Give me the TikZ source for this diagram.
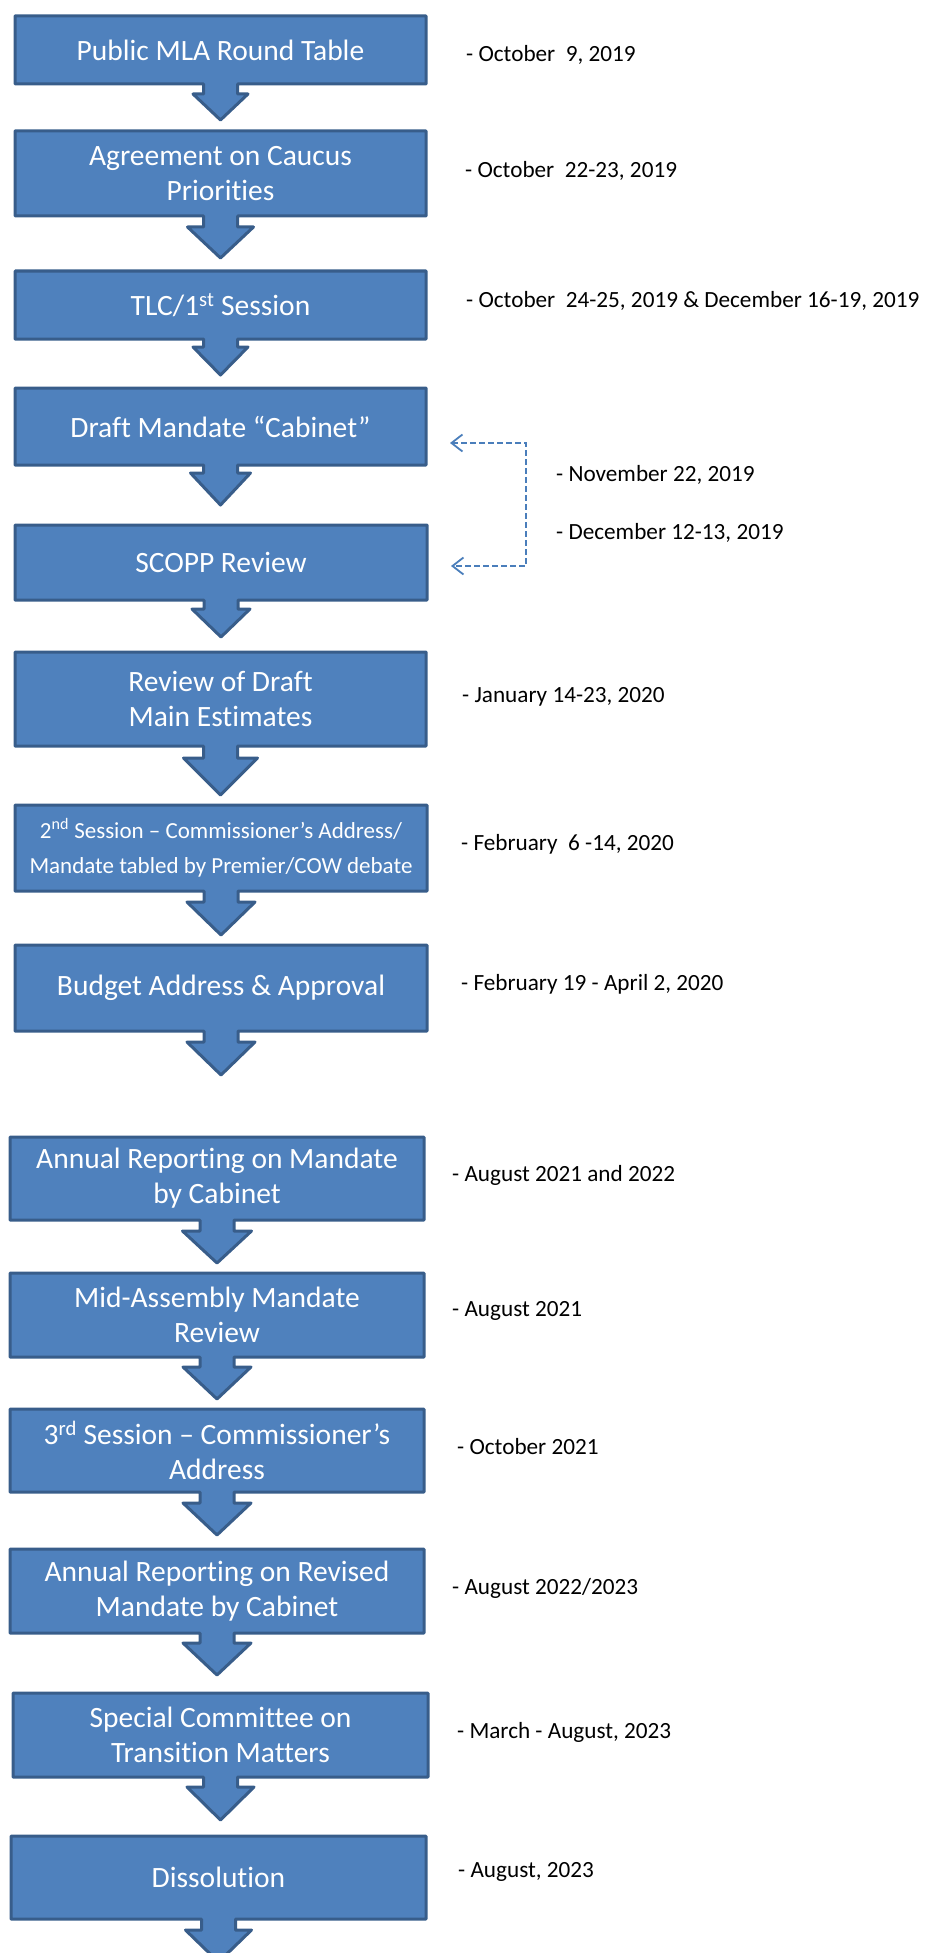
\documentclass[tikz,border=0pt]{standalone}
\usepackage{fontspec}
\setmainfont{Carlito}[Ligatures={NoCommon}]
\usetikzlibrary{arrows.meta}
\definecolor{boxfill}{HTML}{4F81BD}
\definecolor{boxline}{HTML}{385D8A}
\definecolor{dashblue}{HTML}{4A7EBB}
\tikzset{
  blockshape/.style={fill=boxfill, draw=boxline, line width=3pt, line join=round},
  blocktext/.style={text=white, align=center, inner sep=0pt, font=\fontsize{29.5}{35}\selectfont},
  datetext/.style={anchor=west, inner sep=0pt, text=black, font=\fontsize{23.2}{27}\selectfont},
  dashconn/.style={draw=dashblue, line width=1.8pt, dash pattern=on 6pt off 3pt,
    arrows={Straight Barb[length=11pt,width=17pt,line width=1.8pt]-Straight Barb[length=11pt,width=17pt,line width=1.8pt]}}
}
% name, x1, x2, y1, y2, head start, tip, head half-width, text
\newcommand\callbox[9]{%
  \path[blockshape] (#2,#4) -- (#3,#4) -- (#3,#5) -- ({(#2+#3)/2+17},#5) -- ({(#2+#3)/2+17},#6)
    -- ({(#2+#3)/2+#8},#6) -- ({(#2+#3)/2},#7) -- ({(#2+#3)/2-#8},#6) -- ({(#2+#3)/2-17},#6)
    -- ({(#2+#3)/2-17},#5) -- (#2,#5) -- cycle;
  \node[blocktext, minimum width={#3-#2}, minimum height={#5-#4}] (#1) at ({(#2+#3)/2},{(#4+#5)/2}) {#9};
}
\begin{document}
\begin{tikzpicture}[x=1pt,y=-1pt]
\useasboundingbox (0,0) rectangle (929,1953);

\callbox{pub}{15}{426}{16}{84}{94}{120}{27.5}{Public MLA Round Table}
\callbox{agr}{15}{426}{131}{216}{227}{258}{33}{Agreement on Caucus\\Priorities}
\callbox{tlc}{15}{426}{271}{339}{347}{375}{27.5}{TLC/1\textsuperscript{st} Session}
\callbox{drf}{15}{426}{388}{465}{473}{505}{30}{Draft Mandate “Cabinet”}
\callbox{sco}{15}{427}{525}{600}{609}{637}{29}{SCOPP Review}
\callbox{rev}{15}{426}{652}{746}{758}{795}{37}{Review of Draft\\Main Estimates}
\callbox{sec}{15}{427}{805}{891}{902}{935}{34}{\fontsize{23}{27}\selectfont 2\textsuperscript{nd} Session – Commissioner’s Address/\\\fontsize{23}{27}\selectfont Mandate tabled by Premier/COW debate}
\callbox{bud}{15}{427}{945}{1031}{1042}{1075}{34}{Budget Address \& Approval}
\callbox{ann}{10}{424}{1137}{1220}{1231}{1263}{34.5}{Annual Reporting on Mandate\\by Cabinet}
\callbox{mid}{10}{424}{1273}{1357}{1367}{1399}{34}{Mid-Assembly Mandate\\Review}
\callbox{thr}{10}{424}{1409}{1492}{1503}{1535}{34}{3\textsuperscript{rd} Session – Commissioner’s\\Address}
\callbox{arv}{10}{424}{1549}{1633}{1643}{1675}{34}{Annual Reporting on Revised\\Mandate by Cabinet}
\callbox{spc}{13}{428}{1693}{1777}{1787}{1820}{33.5}{Special Committee on\\Transition Matters}
\callbox{dis}{11}{426}{1836}{1919}{1930}{1962}{33}{Dissolution}

% dates
\node[datetext] (d1) at (466,55) {- October\ \ 9, 2019};
\node[datetext] (d2) at (465,171) {- October\ \ 22-23, 2019};
\node[datetext] (d3) at (466,301) {- October\ \ 24-25, 2019 \& December 16-19, 2019};
\node[datetext] (d4) at (556,475) {- November 22, 2019};
\node[datetext] (d5) at (556,533) {- December 12-13, 2019};
\node[datetext] (d6) at (462,697) {- January 14-23, 2020};
\node[datetext] (d7) at (461,844) {- February\ \ 6 -14, 2020};
\node[datetext] (d8) at (461,984) {- February 19 - April 2, 2020};
\node[datetext] (d9) at (452,1175) {- August 2021 and 2022};
\node[datetext] (d10) at (452,1311) {- August 2021};
\node[datetext] (d11) at (457,1447) {- October 2021};
\node[datetext] (d12) at (452,1588) {- August 2022/2023};
\node[datetext] (d13) at (457,1732) {- March - August, 2023};
\node[datetext] (d14) at (458,1872) {- August, 2023};

% dashed bracket connector
\coordinate (t1) at (450,443);
\coordinate (k1) at (526,443);
\coordinate (k2) at (526,566);
\coordinate (t2) at (451,566);
\draw[dashconn] (t1) -- (k1) -- (k2) -- (t2);
\end{tikzpicture}
\end{document}
